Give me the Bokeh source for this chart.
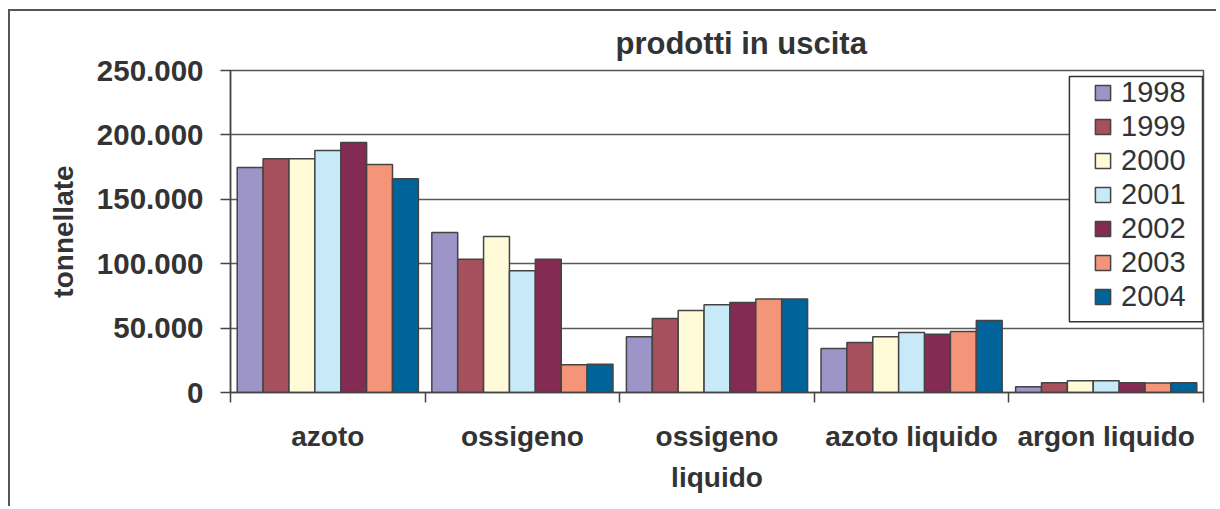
from bokeh.plotting import figure
from bokeh.models import ColumnDataSource, FixedTicker, Legend, LegendItem, Range1d, BoxAnnotation
from bokeh.transform import dodge
from bokeh.embed import file_html
from bokeh.resources import INLINE

# ---- data ----
categories = ["azoto", "ossigeno", "ossigeno liquido", "azoto liquido", "argon liquido"]
cat_labels = ["azoto", "ossigeno", "ossigeno\nliquido", "azoto liquido", "argon liquido"]
years = ["1998", "1999", "2000", "2001", "2002", "2003", "2004"]
v1998 = [174600, 124200, 43200, 34200, 4400]
v1999 = [181400, 103500, 57500, 38800, 7500]
v2000 = [181400, 121100, 63700, 43200, 9100]
v2001 = [187900, 94500, 68100, 46600, 9100]
v2002 = [194100, 103500, 69900, 45300, 7500]
v2003 = [177000, 21500, 72500, 47400, 7300]
v2004 = [165900, 22000, 72500, 55900, 7500]
y_ticks = [0, 50000, 100000, 150000, 200000, 250000]
y_tick_labels = ["0", "50.000", "100.000", "150.000", "200.000", "250.000"]
colors = ["#9d94c8", "#a5505c", "#fffad8", "#c8e9f8", "#832b52", "#f4957a", "#006399"]

series = [v1998, v1999, v2000, v2001, v2002, v2003, v2004]
n = len(categories)
centers = [i + 0.5 for i in range(n)]
bounds = list(range(n + 1))

data = {"x": centers, "cat": categories}
for y, s in zip(years, series):
    data["y" + y] = s
src = ColumnDataSource(data)

FONT = "Liberation Sans"
AX = "#444444"
TXT = "#333333"

p = figure(width=1208, height=497, output_backend="svg", toolbar_location=None,
           x_range=Range1d(0, n), y_range=Range1d(0, 250000),
           min_border_left=220, min_border_right=15, min_border_top=59, min_border_bottom=116,
           title="prodotti in uscita")
# outer chart-area frame (left and top edges visible in the reference)
p.styles = {"margin-left": "10px", "margin-top": "11px",
            "box-shadow": "-2px -2px 0px 0px #555555"}

p.title.text_font = FONT
p.title.text_font_size = "31px"
p.title.text_font_style = "bold"
p.title.text_color = TXT
p.title.align = "left"
p.title.offset = 385
p.title.standoff = 20

p.outline_line_color = "#555555"
p.outline_line_width = 1.5

bw = 0.133
items = []
for j, (y, c) in enumerate(zip(years, colors)):
    r = p.vbar(x=dodge("x", (j - 3) * bw, range=p.x_range), top="y" + y, width=bw,
               source=src, fill_color=c, line_color="#444444", line_width=1.5)
    items.append(LegendItem(label=y, renderers=[r]))

# y axis
p.yaxis.ticker = FixedTicker(ticks=y_ticks)
p.yaxis.major_label_overrides = {t: l for t, l in zip(y_ticks, y_tick_labels)}
p.yaxis.axis_label = "tonnellate"
p.yaxis.axis_label_text_font = FONT
p.yaxis.axis_label_text_font_size = "28px"
p.yaxis.axis_label_text_font_style = "bold"
p.yaxis.axis_label_text_color = TXT
p.yaxis.axis_label_standoff = 15
p.yaxis.major_label_text_font = FONT
p.yaxis.major_label_text_font_size = "29.5px"
p.yaxis.major_label_text_font_style = "bold"
p.yaxis.major_label_text_color = TXT
p.yaxis.major_label_standoff = 17
p.yaxis.major_tick_out = 10
p.yaxis.major_tick_in = 0
p.yaxis.minor_tick_line_color = None
p.yaxis.axis_line_color = AX
p.yaxis.axis_line_width = 1.5
p.yaxis.major_tick_line_color = AX
p.yaxis.major_tick_line_width = 1.5

# x axis
p.xaxis.ticker = FixedTicker(ticks=centers, minor_ticks=bounds)
p.xaxis.major_label_overrides = {c: l for c, l in zip(centers, cat_labels)}
p.xaxis.major_label_text_font = FONT
p.xaxis.major_label_text_font_size = "28px"
p.xaxis.major_label_text_font_style = "bold"
p.xaxis.major_label_text_color = TXT
p.xaxis.major_label_text_line_height = 1.35
p.xaxis.major_label_standoff = 18
p.xaxis.major_tick_line_color = None
p.xaxis.minor_tick_line_color = AX
p.xaxis.minor_tick_line_width = 1.5
p.xaxis.minor_tick_out = 10
p.xaxis.minor_tick_in = 0
p.xaxis.axis_line_color = AX
p.xaxis.axis_line_width = 1.5

p.xgrid.grid_line_color = None
p.ygrid.grid_line_color = "#5a5a5a"
p.ygrid.grid_line_width = 1.5

# legend frame (white box with dark border)
box = BoxAnnotation(left=4.311, right=4.995, top=245300, bottom=55000,
                    fill_color="white", fill_alpha=1.0,
                    line_color="#333333", line_width=1.5, line_alpha=1.0)
p.add_layout(box)

legend = Legend(items=items, location=(863, 79))
legend.label_text_font = FONT
legend.label_text_font_size = "29px"
legend.label_text_color = TXT
legend.glyph_width = 19
legend.glyph_height = 19
legend.label_standoff = 9
legend.label_height = 29
legend.spacing = 1
legend.padding = 0
legend.margin = 0
legend.border_line_color = None
legend.background_fill_alpha = 0.0
p.add_layout(legend)

open("out.html", "w").write(file_html(p, INLINE))
